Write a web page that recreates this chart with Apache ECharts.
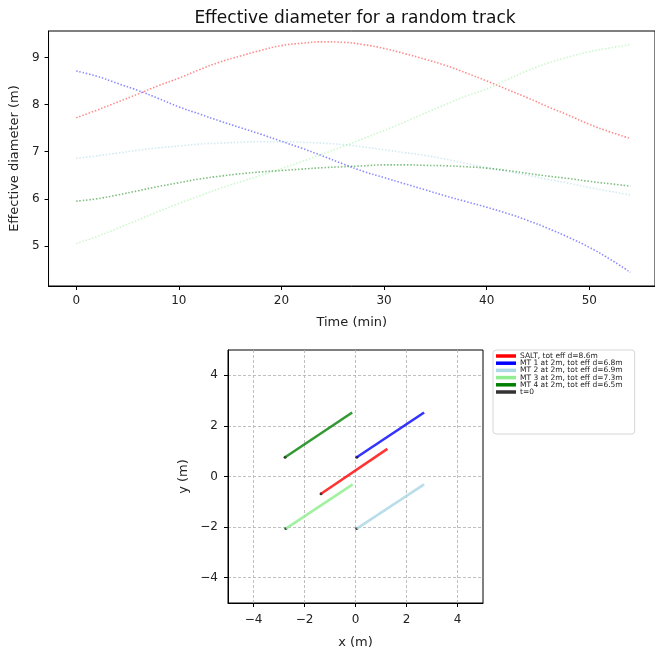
<!DOCTYPE html>
<html>
<head>
<meta charset="utf-8">
<script src="https://cdn.jsdelivr.net/npm/echarts@6/dist/echarts.min.js"></script>
<style>
  html, body { margin: 0; padding: 0; background: #fff; overflow: hidden; }
  #chart { width: 655px; height: 652px; }
</style>
</head>
<body>
<div id="chart"></div>
<script>
// top panel: effective diameter over time (every 2 min)
const timeMin = [0, 2, 4, 6, 8, 10, 12, 14, 16, 18, 20, 22, 24, 26, 28, 30, 32, 34, 36, 38, 40, 42, 44, 46, 48, 50, 52, 54];
const saltDiam = [7.72, 7.88, 8.05, 8.22, 8.40, 8.56, 8.74, 8.90, 9.03, 9.15, 9.25, 9.30, 9.33, 9.32, 9.27, 9.19, 9.08, 8.96, 8.83, 8.67, 8.50, 8.32, 8.14, 7.95, 7.77, 7.58, 7.42, 7.28];
const mt1Diam = [8.71, 8.60, 8.45, 8.30, 8.13, 7.95, 7.80, 7.65, 7.51, 7.37, 7.22, 7.07, 6.91, 6.74, 6.58, 6.45, 6.32, 6.19, 6.06, 5.94, 5.82, 5.69, 5.54, 5.37, 5.18, 4.97, 4.72, 4.44];
const mt2Diam = [6.86, 6.91, 6.97, 7.03, 7.08, 7.12, 7.16, 7.18, 7.20, 7.21, 7.21, 7.20, 7.18, 7.15, 7.10, 7.04, 6.98, 6.92, 6.84, 6.75, 6.66, 6.58, 6.50, 6.41, 6.33, 6.24, 6.16, 6.08];
const mt3Diam = [5.05, 5.20, 5.37, 5.55, 5.73, 5.90, 6.06, 6.22, 6.36, 6.50, 6.64, 6.79, 6.95, 7.11, 7.28, 7.45, 7.63, 7.82, 8.00, 8.18, 8.33, 8.53, 8.72, 8.88, 9.01, 9.12, 9.20, 9.27];
const mt4Diam = [5.95, 6.00, 6.08, 6.17, 6.26, 6.34, 6.42, 6.48, 6.53, 6.57, 6.60, 6.63, 6.66, 6.68, 6.70, 6.72, 6.72, 6.71, 6.70, 6.68, 6.65, 6.60, 6.54, 6.48, 6.43, 6.37, 6.32, 6.27];

// bottom panel: tracks in metres, first point is t=0
const saltTrackX = [-1.35, 1.25];
const saltTrackY = [-0.68, 1.09];
const mt1TrackX = [0.05, 2.69];
const mt1TrackY = [0.76, 2.53];
const mt2TrackX = [0.05, 2.69];
const mt2TrackY = [-2.06, -0.31];
const mt3TrackX = [-2.73, -0.11];
const mt3TrackY = [-2.06, -0.31];
const mt4TrackX = [-2.76, -0.13];
const mt4TrackY = [0.76, 2.53];

const legendNames = ['SALT, tot eff d=8.6m', 'MT 1 at 2m, tot eff d=6.8m', 'MT 2 at 2m, tot eff d=6.9m',
    'MT 3 at 2m, tot eff d=7.3m', 'MT 4 at 2m, tot eff d=6.5m', 't=0'];

const timeTicks = [0, 10, 20, 30, 40, 50];
const diamTicks = [5, 6, 7, 8, 9];
const posTicks = [-4, -2, 0, 2, 4];

const myChart = echarts.init(document.getElementById('chart'));

function pairs(xs, ys) {
    return xs.map((x, i) => [x, ys[i]]);
}
function minusSign(v) {
    return String(v).replace('-', '\u2212');
}

const dotted = [1.5, 1.8];
function diamSeries(name, values, color) {
    return {
        name: name,
        type: 'line',
        xAxisIndex: 0,
        yAxisIndex: 0,
        data: pairs(timeMin, values),
        smooth: true,
        showSymbol: false,
        silent: true,
        lineStyle: { color: color, width: 1.6, type: dotted }
    };
}
function trackSeries(name, xs, ys, color) {
    return {
        name: name,
        type: 'line',
        xAxisIndex: 1,
        yAxisIndex: 1,
        data: pairs(xs, ys),
        showSymbol: false,
        silent: true,
        lineStyle: { color: color, width: 2.6 },
        itemStyle: { color: color }
    };
}

const axisCommon = {
    axisLine: { show: true, onZero: false, lineStyle: { color: '#000', width: 1 } },
    axisTick: { show: true, length: 4, lineStyle: { color: '#000' } },
    axisLabel: { color: '#222', fontSize: 12, margin: 9, formatter: minusSign },
    splitLine: { show: false },
    nameLocation: 'middle',
    nameTextStyle: { color: '#222', fontSize: 13 }
};
const gridDash = { show: true, lineStyle: { color: '#b0b0b0', type: [3, 2], width: 0.8 } };

let option = {
    animation: false,
    textStyle: { fontFamily: 'DejaVu Sans' },
    title: {
        text: 'Effective diameter for a random track',
        left: 350,
        textAlign: 'center',
        top: 5,
        textStyle: { fontSize: 17, fontWeight: 'normal', color: '#111', fontFamily: 'DejaVu Sans' }
    },
    grid: [
        { left: 48, top: 31, width: 612, height: 255, show: true, borderColor: '#000', borderWidth: 1 },
        { left: 228, top: 350, width: 255, height: 253, show: true, borderColor: '#000', borderWidth: 1 }
    ],
    xAxis: [
        Object.assign({}, axisCommon, {
            type: 'value', gridIndex: 0, min: -2.7, max: 56.4,
            name: 'Time (min)', nameGap: 30,
            axisTick: Object.assign({}, axisCommon.axisTick, { customValues: timeTicks }),
            axisLabel: Object.assign({}, axisCommon.axisLabel, { customValues: timeTicks })
        }),
        Object.assign({}, axisCommon, {
            type: 'value', gridIndex: 1, min: -5, max: 5,
            name: 'x (m)', nameGap: 33,
            axisTick: Object.assign({}, axisCommon.axisTick, { customValues: posTicks }),
            axisLabel: Object.assign({}, axisCommon.axisLabel, { customValues: posTicks, margin: 11 }),
            splitLine: gridDash
        })
    ],
    yAxis: [
        Object.assign({}, axisCommon, {
            type: 'value', gridIndex: 0, min: 4.15, max: 9.56,
            name: 'Effective diameter (m)', nameGap: 26,
            axisTick: Object.assign({}, axisCommon.axisTick, { customValues: diamTicks }),
            axisLabel: Object.assign({}, axisCommon.axisLabel, { customValues: diamTicks })
        }),
        Object.assign({}, axisCommon, {
            type: 'value', gridIndex: 1, min: -5, max: 5,
            name: 'y (m)', nameGap: 38,
            axisTick: Object.assign({}, axisCommon.axisTick, { customValues: posTicks }),
            axisLabel: Object.assign({}, axisCommon.axisLabel, { customValues: posTicks, margin: 10 }),
            splitLine: gridDash
        })
    ],
    legend: {
        orient: 'vertical',
        left: 493,
        top: 350,
        icon: 'rect',
        itemWidth: 20,
        itemHeight: 3.5,
        itemGap: -0.8,
        padding: [2, 12, 38, 3],
        borderColor: '#d6d6d6',
        borderWidth: 1,
        borderRadius: 3,
        backgroundColor: '#fff',
        textStyle: { fontSize: 7.5, lineHeight: 8, color: '#222', padding: [0, 0, 0, -1] },
        data: [
            { name: legendNames[0], itemStyle: { color: '#ff0000' } },
            { name: legendNames[1], itemStyle: { color: '#0000ff' } },
            { name: legendNames[2], itemStyle: { color: '#add8e6' } },
            { name: legendNames[3], itemStyle: { color: '#90ee90' } },
            { name: legendNames[4], itemStyle: { color: '#008000' } },
            { name: legendNames[5], itemStyle: { color: '#000000' } }
        ]
    },
    series: [
        diamSeries('SALT d', saltDiam, 'rgba(255,0,0,0.45)'),
        diamSeries('MT1 d', mt1Diam, 'rgba(0,0,255,0.45)'),
        diamSeries('MT2 d', mt2Diam, 'rgba(173,216,230,0.55)'),
        diamSeries('MT3 d', mt3Diam, 'rgba(144,238,144,0.45)'),
        diamSeries('MT4 d', mt4Diam, 'rgba(0,128,0,0.5)'),
        trackSeries(legendNames[0], saltTrackX, saltTrackY, 'rgba(255,0,0,0.8)'),
        trackSeries(legendNames[1], mt1TrackX, mt1TrackY, 'rgba(0,0,255,0.8)'),
        trackSeries(legendNames[2], mt2TrackX, mt2TrackY, 'rgba(173,216,230,0.85)'),
        trackSeries(legendNames[3], mt3TrackX, mt3TrackY, 'rgba(144,238,144,0.85)'),
        trackSeries(legendNames[4], mt4TrackX, mt4TrackY, 'rgba(0,128,0,0.8)'),
        {
            name: legendNames[5],
            type: 'scatter',
            xAxisIndex: 1,
            yAxisIndex: 1,
            symbolSize: 3,
            silent: true,
            itemStyle: { color: '#000' },
            data: [
                [saltTrackX[0], saltTrackY[0]], [mt1TrackX[0], mt1TrackY[0]], [mt2TrackX[0], mt2TrackY[0]],
                [mt3TrackX[0], mt3TrackY[0]], [mt4TrackX[0], mt4TrackY[0]]
            ]
        }
    ]
};
myChart.setOption(option);
</script>
</body>
</html>
